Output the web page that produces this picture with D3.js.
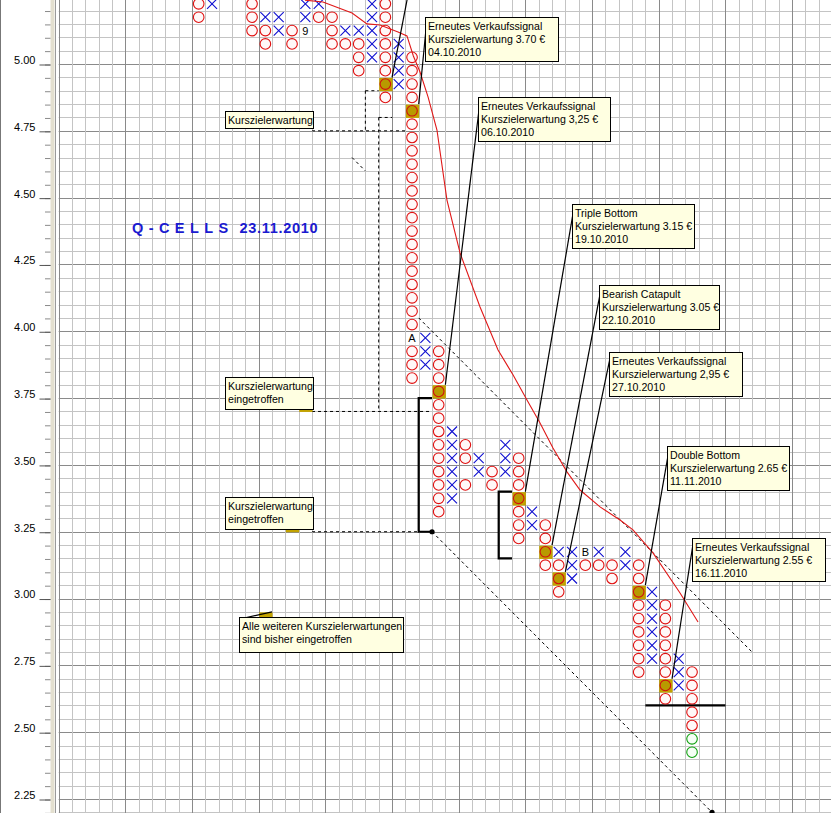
<!DOCTYPE html>
<html><head><meta charset="utf-8">
<script src="https://cdn.jsdelivr.net/npm/d3@7"></script>
<style>
body{margin:0;background:#fff;overflow:hidden}
svg{display:block}
text{font-family:"Liberation Sans",Arial,sans-serif}
</style>
</head><body><svg id="c" width="831" height="813"></svg>
<script>
// ---------------- DATA ----------------
const priceTicks = [5.00,4.75,4.50,4.25,4.00,3.75,3.50,3.25,3.00,2.75,2.50,2.25];
const boxSize = 0.05;
// [column, box (lower price)]
const xBoxes = [[11,5.20],[15,5.15],[16,5.15],[16,5.10],[18,5.20],[18,5.15],[19,5.20],[21,5.10],[22,5.10],
  [23,5.20],[23,5.15],[23,5.10],[23,5.05],[23,5.00],[25,5.05],[25,5.00],[25,4.95],[25,4.90],
  [27,3.95],[27,3.90],[27,3.85],[29,3.60],[29,3.55],[29,3.50],[29,3.45],[29,3.40],[29,3.35],
  [31,3.50],[31,3.45],[33,3.55],[33,3.50],[33,3.45],[35,3.30],[35,3.25],[37,3.15],
  [38,3.15],[38,3.10],[38,3.05],[40,3.15],[42,3.15],[42,3.10],
  [44,3.00],[44,2.95],[44,2.90],[44,2.85],[44,2.80],[44,2.75],[46,2.75],[46,2.70],[46,2.65]];
const oBoxes = [[10,5.20],[10,5.15],[14,5.20],[14,5.15],[14,5.10],[15,5.10],[15,5.05],[17,5.10],[17,5.05],
  [19,5.15],[20,5.15],[20,5.10],[20,5.05],[21,5.05],[22,5.05],[22,5.00],[22,4.95],
  [24,5.20],[24,5.15],[24,5.10],[24,5.05],[24,5.00],[24,4.95],[24,4.85],
  [26,5.00],[26,4.95],[26,4.90],[26,4.85],[26,4.75],[26,4.70],[26,4.65],[26,4.60],[26,4.55],[26,4.50],
  [26,4.45],[26,4.40],[26,4.35],[26,4.30],[26,4.25],[26,4.20],[26,4.15],[26,4.10],[26,4.05],[26,4.00],
  [26,3.90],[26,3.85],[26,3.80],
  [28,3.90],[28,3.85],[28,3.80],[28,3.70],[28,3.65],[28,3.60],[28,3.55],[28,3.50],[28,3.45],[28,3.40],[28,3.35],[28,3.30],
  [30,3.55],[30,3.50],[30,3.40],[32,3.45],[32,3.40],
  [34,3.50],[34,3.45],[34,3.40],[34,3.30],[34,3.25],[34,3.20],
  [36,3.25],[36,3.20],[36,3.10],[37,3.10],[37,3.00],[39,3.10],[40,3.10],[41,3.10],[41,3.05],
  [43,3.10],[43,3.05],[43,2.95],[43,2.90],[43,2.85],[43,2.80],[43,2.75],[43,2.70],
  [45,2.95],[45,2.90],[45,2.85],[45,2.80],[45,2.75],[45,2.70],[45,2.60],
  [47,2.70],[47,2.65],[47,2.60],[47,2.55],[47,2.50]];
const signalBoxes = [[24,4.90],[26,4.80],[28,3.75],[34,3.35],[36,3.15],[37,3.05],[43,3.00],[45,2.65]];
const hiddenSignalBoxes = [[18,3.70],[17,3.25],[15,2.90]];
const greenBoxes = [[47,2.45],[47,2.40]];
const monthMarks = [[18,5.10,"9"],[26,3.95,"A"],[39,3.15,"B"]];
// moving average [column position, price]
const maLine = [[18.47,5.239],[19.82,5.232],[22.0,5.191],[23.12,5.150],[24.1,5.146],[25.45,5.120],[26.12,5.105],
  [26.6,5.030],[27.1,4.970],[27.7,4.877],[28.37,4.753],[29.12,4.491],[30.1,4.293],[31.6,4.091],[32.95,3.930],
  [34.07,3.837],[35.12,3.743],[36.1,3.657],[37.07,3.563],[38.12,3.474],[39.1,3.406],[40.6,3.343],[42.1,3.294],
  [43.07,3.257],[44.57,3.171],[46.6,3.021],[47.95,2.912]];
// trend lines [[c1,p1],[c2,p2]]
const trendLines = [[[27,4.05],[52,2.80]],[[28,3.25],[49,2.20]],[[22,4.65],[23,4.60]]];
const trendDots = [[28,3.25],[49,2.20]];
// dashed target-measurement lines
const targetLines = [[[23,4.90],[24,4.90]],[[23,4.90],[23,4.75]],[[19,4.75],[26,4.75]],
  [[24,4.80],[25,4.80]],[[24,4.80],[24,3.70]],[[19,3.70],[28,3.70]],[[19,3.25],[27,3.25]]];
// thick brackets
const brackets = [[[28,3.75],[27,3.75],[27,3.25],[28,3.25]],[[34,3.40],[33,3.40],[33,3.15],[34,3.15]],[[44,2.60],[50,2.60]]];
// callouts: box top-left [col, price], target box
const callouts = [
  {lines:["Erneutes Verkaufssignal","Kurszielerwartung 3.70 €","04.10.2010"], at:[27.47,5.175], w:133, h:44, target:[26,4.80]},
  {lines:["Erneutes Verkaufssignal","Kurszielerwartung 3,25 €","06.10.2010"], at:[31.47,4.875], w:132, h:44, target:[28,3.75]},
  {lines:["Triple Bottom","Kurszielerwartung 3.15 €","19.10.2010"], at:[38.52,4.476], w:122, h:44, target:[34,3.35]},
  {lines:["Bearish Catapult","Kurszielerwartung 3.05 €","22.10.2010"], at:[40.55,4.173], w:120, h:44, target:[36,3.15]},
  {lines:["Erneutes Verkaufssignal","Kurszielerwartung 2,95 €","27.10.2010"], at:[41.27,3.924], w:133, h:44, target:[37,3.05]},
  {lines:["Double Bottom","Kurszielerwartung 2.65 €","11.11.2010"], at:[45.65,3.571], w:122, h:44, target:[43,3.00]},
  {lines:["Erneutes Verkaufssignal","Kurszielerwartung 2.55 €","16.11.2010"], at:[47.47,3.226], w:133, h:43, target:[45,2.65]},
  {lines:["Kurszielerwartung"], at:[12.45,4.826], w:88, h:17, target:null},
  {lines:["Kurszielerwartung","eingetroffen"], at:[12.45,3.829], w:88, h:32, target:[18,3.70]},
  {lines:["Kurszielerwartung","eingetroffen"], at:[12.45,3.380], w:88, h:32, target:[17,3.25]},
  {lines:["Alle weiteren Kurszielerwartungen","sind bisher eingetroffen"], at:[13.5,2.932], w:164, h:35, target:[15,2.90]}
];
const offscreenLeader = [[24,4.90],[26.75,5.40]];
const titleName = "Q-CELLS", titleDate = "23.11.2010";
const titlePos = [5.5, 4.00 + 0.368];

// ---------------- CHART ----------------
const W = 831, H = 813;
const svg = d3.select("#c");
const x = d3.scaleLinear().domain([0, 58]).range([58.7, 58.7 + 58 * 40 / 3]);
const y = d3.scaleLinear().domain([5.00, 2.25]).range([64, 799]);
const cw = x(1) - x(0), ch = y(5.00) - y(5.05);
const r2 = v => Math.round(v * 100) / 100;

svg.append("rect").attr("width", W).attr("height", H).attr("fill", "#fff");

// grid
const g = svg.append("g");
const cols = d3.range(0, 59);
const rows = d3.range(42, 107).map(i => r2(i * boxSize));
g.selectAll(".hv").data(rows).join("line")
  .attr("x1", x(0)).attr("x2", W).attr("y1", d => Math.round(y(d)) + 0.5).attr("y2", d => Math.round(y(d)) + 0.5)
  .attr("stroke", d => (Math.round(d * 100) % 25 === 0) ? "#8a8a8a" : "#c4c4c4").attr("stroke-width", 1);
g.selectAll(".vv").data(cols).join("line")
  .attr("y1", 0).attr("y2", H).attr("x1", d => Math.round(x(d)) + 0.5).attr("x2", d => Math.round(x(d)) + 0.5)
  .attr("stroke", d => d % 5 === 0 ? "#8a8a8a" : "#c4c4c4").attr("stroke-width", 1);

// left panel
svg.append("rect").attr("x", 0).attr("y", 0).attr("width", 50.5).attr("height", H).attr("fill", "#fff");
svg.append("rect").attr("x", 50.5).attr("y", 0).attr("width", 4).attr("height", H).attr("fill", "#e3dfcf");
svg.append("line").attr("x1", 55.5).attr("x2", 55.5).attr("y1", 0).attr("y2", H).attr("stroke", "#9a9a9a");
svg.append("line").attr("x1", 0.5).attr("x2", 0.5).attr("y1", 0).attr("y2", H).attr("stroke", "#777");

// axis
const minorTicks = rows;
const axMinor = svg.append("g").attr("transform", "translate(50.5,0.5)")
  .call(d3.axisLeft(y).tickValues(minorTicks).tickSize(5.5).tickFormat(""));
axMinor.select(".domain").remove();
axMinor.selectAll("line").attr("stroke", "#8a8a8a");
const ax = svg.append("g").attr("transform", "translate(50.5,0.5)")
  .call(d3.axisLeft(y).tickValues(priceTicks).tickSize(11).tickPadding(4).tickFormat(d3.format(".2f")));
ax.select(".domain").remove();
ax.selectAll("line").attr("stroke", "#555");
ax.selectAll("text").attr("dy", "-0.1em").attr("y", 0).attr("fill", "#000")
  .style("font-size", "11px").style("font-family", "'Liberation Sans',Arial,sans-serif");

// dashed measurement lines and trend lines
const dash = svg.append("g").attr("stroke", "#000").attr("stroke-width", 1).attr("stroke-dasharray", "3,3").attr("fill", "none");
dash.selectAll(".t").data(targetLines).join("line")
  .attr("x1", d => x(d[0][0])).attr("y1", d => y(d[0][1])).attr("x2", d => x(d[1][0])).attr("y2", d => y(d[1][1]));
dash.selectAll(".tr").data(trendLines).join("line")
  .attr("x1", d => x(d[0][0])).attr("y1", d => y(d[0][1])).attr("x2", d => x(d[1][0])).attr("y2", d => y(d[1][1]));

// brackets
svg.append("g").selectAll("path").data(brackets).join("path")
  .attr("d", d => d3.line().x(p => x(p[0])).y(p => y(p[1]))(d))
  .attr("fill", "none").attr("stroke", "#000").attr("stroke-width", 2.2);
svg.append("g").selectAll("circle").data(trendDots).join("circle")
  .attr("cx", d => x(d[0])).attr("cy", d => y(d[1])).attr("r", 2.6).attr("fill", "#000");

// cells
const cx = d => x(d[0] + 0.5), cy = d => y(d[1] + boxSize / 2);
const rad = 5.3;
svg.append("g").selectAll("rect").data(signalBoxes.concat(hiddenSignalBoxes)).join("rect")
  .attr("x", d => x(d[0]) + 0.5).attr("y", d => y(d[1] + boxSize) + 0.5).attr("width", cw).attr("height", ch)
  .attr("fill", "#c3a300");
svg.append("g").selectAll("circle").data(oBoxes).join("circle")
  .attr("cx", cx).attr("cy", cy).attr("r", rad).attr("fill", "#fff8f8").attr("stroke", "#e01010").attr("stroke-width", 1.1);
svg.append("g").selectAll("circle").data(signalBoxes).join("circle")
  .attr("cx", cx).attr("cy", cy).attr("r", rad).attr("fill", "#b89a00").attr("stroke", "#d01010").attr("stroke-width", 1.1);
svg.append("g").selectAll("circle").data(greenBoxes).join("circle")
  .attr("cx", cx).attr("cy", cy).attr("r", rad).attr("fill", "#f6fff6").attr("stroke", "#10a010").attr("stroke-width", 1.1);
const xs = 5;
svg.append("g").selectAll("path").data(xBoxes).join("path")
  .attr("d", d => { const a = cx(d), b = cy(d); return `M${a - xs},${b - xs}L${a + xs},${b + xs}M${a + xs},${b - xs}L${a - xs},${b + xs}`; })
  .attr("stroke", "#1010d0").attr("stroke-width", 1.1).attr("fill", "none");
svg.append("g").selectAll("text").data(monthMarks).join("text")
  .attr("x", cx).attr("y", cy).attr("dy", "0.36em").attr("text-anchor", "middle")
  .style("font-size", "11px").attr("fill", "#000").text(d => d[2]);

// moving average
svg.append("path").datum(maLine)
  .attr("d", d3.line().x(d => x(d[0])).y(d => y(d[1])))
  .attr("fill", "none").attr("stroke", "#e01818").attr("stroke-width", 1.1);

// title
const tt = svg.append("text").attr("x", x(titlePos[0])).attr("y", y(titlePos[1]))
  .attr("fill", "#1a1ad0").style("font-weight", "bold").style("font-size", "14.5px");
tt.append("tspan").style("letter-spacing", "5.4px").text(titleName);
tt.append("tspan").attr("dx", 6).style("letter-spacing", "0.7px").text(titleDate);

// leaders
const leaders = svg.append("g").attr("stroke", "#000").attr("stroke-width", 1.2);
leaders.append("line")
  .attr("x1", x(offscreenLeader[0][0] + 1)).attr("y1", y(offscreenLeader[0][1] + boxSize))
  .attr("x2", x(offscreenLeader[1][0])).attr("y2", y(offscreenLeader[1][1]));
callouts.filter(c => c.target).forEach(c => {
  leaders.append("line")
    .attr("x1", x(c.target[0] + 1)).attr("y1", y(c.target[1] + boxSize))
    .attr("x2", x(c.at[0]) + 2).attr("y2", y(c.at[1]) + 2);
});

// callout boxes
const cg = svg.append("g").selectAll("g").data(callouts).join("g")
  .attr("transform", d => `translate(${Math.round(x(d.at[0])) + 0.5},${Math.round(y(d.at[1])) + 0.5})`);
cg.append("rect").attr("width", d => d.w).attr("height", d => d.h)
  .attr("fill", "#ffffe1").attr("stroke", "#000").attr("stroke-width", 1);
cg.each(function (d) {
  const t = d3.select(this).append("text").style("font-size", "10.6px").attr("fill", "#000");
  d.lines.forEach((l, i) => t.append("tspan").attr("x", 2.5).attr("y", 12 + i * 13).text(l));
});
</script>
</body></html>
